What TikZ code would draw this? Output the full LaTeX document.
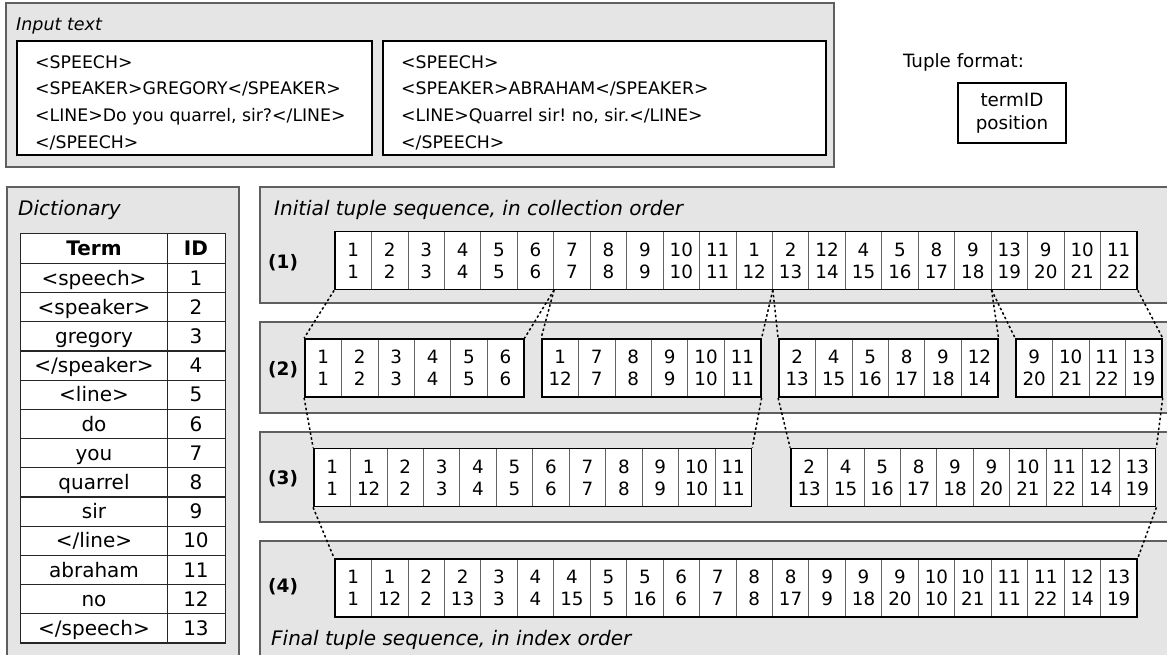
\documentclass[tikz,border=0pt]{standalone}
\usepackage{fontspec}
\setmainfont{DejaVu Sans}
\frenchspacing
\definecolor{panelfill}{RGB}{229,229,229}
\definecolor{panelline}{RGB}{95,95,95}
\definecolor{divline}{RGB}{100,100,100}
\newcommand\cellw{36.45}
\newcommand\cellh{58}
\newcommand\tuplerow[5]{%
  \foreach [count=\i] \a/\b in {#5}{
    \node[tcell] (#1-\i) at ({#2+(\i-0.5)*\cellw},{#3+\cellh/2}) {\a\\\b};
  }
  \node[tgroup, minimum width={#4*\cellw}] (#1) at ({#2+#4*\cellw/2},{#3+\cellh/2}) {};
}
\tikzset{
  panel/.style={fill=panelfill, draw=panelline, line width=1.1pt},
  tcell/.style={draw=divline, line width=0.8pt, fill=white, minimum width=\cellw, minimum height=\cellh,
    inner sep=0pt, align=center, font=\fontsize{18.3}{22}\selectfont},
  tgroup/.style={draw=black, line width=1.8pt, minimum height=\cellh, inner sep=0pt},
  conn/.style={line width=1.5pt, dash pattern=on 2.5pt off 2.5pt},
  rowlabel/.style={anchor=west, inner sep=0pt, font=\fontsize{18.5}{22}\selectfont\bfseries},
  ital/.style={anchor=base west, inner sep=0pt, font=\fontsize{20}{24}\selectfont\itshape},
  dcell/.style={minimum height=29.2, inner sep=0pt, text height=14.6, text depth=0pt,
    font=\fontsize{20}{24}\selectfont},
  dline/.style={draw=black!85, line width=1.2pt},
  inbox/.style={draw=black, line width=1.5pt, fill=white, inner sep=0pt},
  intext/.style={anchor=north west, align=left, inner sep=0pt, font=\fontsize{17.3}{26.7}\selectfont},
}
\begin{document}
\begin{tikzpicture}[x=1pt, y=-1pt]
\useasboundingbox (0,0) rectangle (1167,655);
\clip (0,0) rectangle (1167,655);

% ---------- Input text panel ----------
\draw[panel] (6,3) rectangle (834,167);
\node[ital, font=\fontsize{17.5}{21}\selectfont\itshape] (inlab) at (16,31) {Input text};
\node[inbox, minimum width=355, minimum height=114] (in1) at (194.5,98) {};
\node[inbox, minimum width=443, minimum height=114] (in2) at (604.5,98) {};
\node[intext] (in1t) at (35,55) {<SPEECH>\\<SPEAKER>GREGORY</SPEAKER>\\<LINE>Do you quarrel, sir?</LINE>\\</SPEECH>};
\node[intext] (in2t) at (401,55) {<SPEECH>\\<SPEAKER>ABRAHAM</SPEAKER>\\<LINE>Quarrel sir! no, sir.</LINE>\\</SPEECH>};

% ---------- Tuple format ----------
\node[inner sep=0pt, font=\fontsize{18.3}{22}\selectfont] (tflab) at (963.5,62) {Tuple format:};
\node[draw=black, line width=1.2pt, fill=white, minimum width=108, minimum height=60, inner sep=0pt,
  align=center, font=\fontsize{18.3}{23}\selectfont] (tfbox) at (1012,113) {termID\\position};

% ---------- Dictionary ----------
\draw[panel] (7,187) rectangle (239,700);
\node[ital] (diclab) at (18,216) {Dictionary};
\fill[white] (21,234) rectangle (225,642.8);
\foreach [count=\k from 0] \t/\d in {{\textbf{Term}}/{\textbf{ID}}, <speech>/1, <speaker>/2, gregory/3,
  {</speaker>}/4, <line>/5, do/6, you/7, quarrel/8, sir/9, {</line>}/10, abraham/11, no/12, {</speech>}/13}{
  \node[dcell, minimum width=146] (t\k) at (94,{234+(\k+0.5)*29.2}) {\t};
  \node[dcell, minimum width=58] (i\k) at (196,{234+(\k+0.5)*29.2}) {\d};
}
\foreach \k in {0,...,12}{
  \draw[dline] (t\k.south west) -- (i\k.south east);
}
\draw[dline] (t0.north east) -- (t13.south east);
\draw[dline] (t0.north west) rectangle (i13.south east);

% ---------- Tuple panels ----------
\draw[panel] (260,187) rectangle (1190,303);
\draw[panel] (260,322) rectangle (1190,413);
\draw[panel] (260,432) rectangle (1190,522);
\draw[panel] (260,541) rectangle (1190,700);

\node[ital] (lab1) at (274,216) {Initial tuple sequence, in collection order};
\node[ital] (lab4) at (271,645) {Final tuple sequence, in index order};

\tuplerow{r1}{335}{231.5}{22}{1/1,2/2,3/3,4/4,5/5,6/6,7/7,8/8,9/9,10/10,11/11,1/12,2/13,12/14,4/15,5/16,8/17,9/18,13/19,9/20,10/21,11/22}
\tuplerow{g21}{305}{339}{6}{1/1,2/2,3/3,4/4,5/5,6/6}
\tuplerow{g22}{542}{339}{6}{1/12,7/7,8/8,9/9,10/10,11/11}
\tuplerow{g23}{779}{339}{6}{2/13,4/15,5/16,8/17,9/18,12/14}
\tuplerow{g24}{1016}{339}{4}{9/20,10/21,11/22,13/19}
\tuplerow{g31}{314}{448.5}{12}{1/1,1/12,2/2,3/3,4/4,5/5,6/6,7/7,8/8,9/9,10/10,11/11}
\tuplerow{g32}{791}{448.5}{10}{2/13,4/15,5/16,8/17,9/18,9/20,10/21,11/22,12/14,13/19}
\tuplerow{r4}{335}{559}{22}{1/1,1/12,2/2,2/13,3/3,4/4,4/15,5/5,5/16,6/6,7/7,8/8,8/17,9/9,9/18,9/20,10/10,10/21,11/11,11/22,12/14,13/19}

\node[rowlabel] (l1) at (268,263) {(1)};
\node[rowlabel] (l2) at (268,370) {(2)};
\node[rowlabel] (l3) at (268,479) {(3)};
\node[rowlabel] (l4) at (268,587) {(4)};

% ---------- Connectors ----------
\draw[conn] (r1.south west) -- (g21.north west);
\draw[conn] (r1-6.south east) -- (g21.north east);
\draw[conn] (r1-6.south east) -- (g22.north west);
\draw[conn] (r1-12.south east) -- (g22.north east);
\draw[conn] (r1-12.south east) -- (g23.north west);
\draw[conn] (r1-18.south east) -- (g23.north east);
\draw[conn] (r1-18.south east) -- (g24.north west);
\draw[conn] (r1.south east) -- (g24.north east);
\draw[conn] (g21.south west) -- (g31.north west);
\draw[conn] (g22.south east) -- (g31.north east);
\draw[conn] (g23.south west) -- (g32.north west);
\draw[conn] (g24.south east) -- (g32.north east);
\draw[conn] (g31.south west) -- (r4.north west);
\draw[conn] (g32.south east) -- (r4.north east);
\end{tikzpicture}
\end{document}
